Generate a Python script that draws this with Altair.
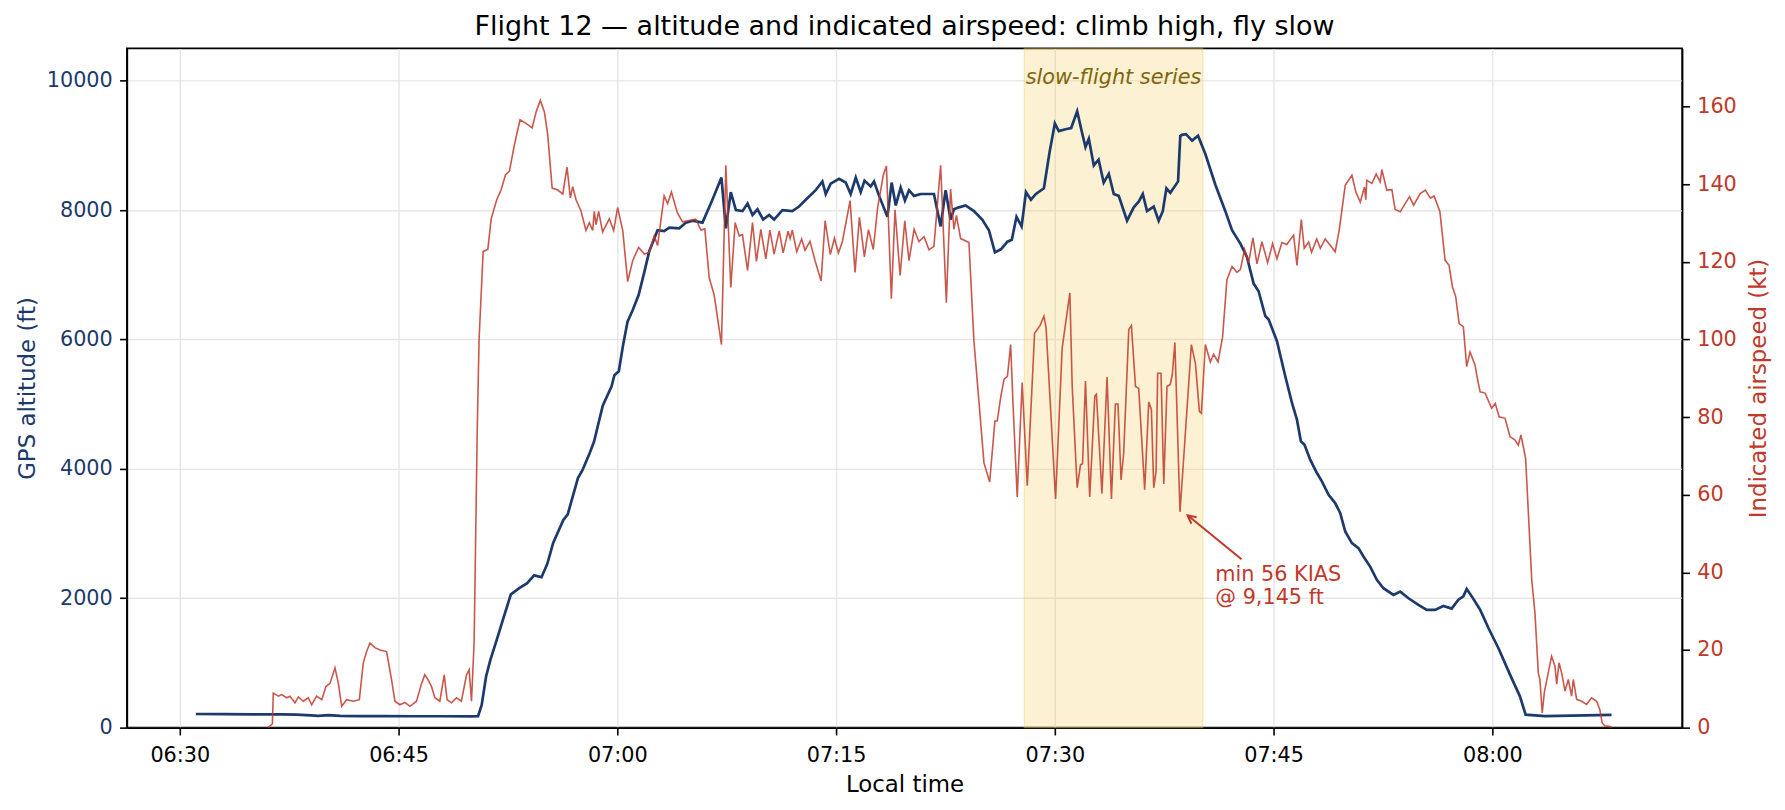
import altair as alt
import pandas as pd

# ---------------- data ----------------
# time values are minutes after 06:30 local time
ALT_T = [1.1, 3.0, 5.0, 7.0, 8.0, 9.0, 9.5, 10.2, 11.0, 12.4, 14.0, 16.0, 18.0, 20.0, 20.45, 20.7, 21.0, 21.3,
         21.7, 22.2, 22.7, 23.3, 23.8, 24.3, 24.8, 25.2, 25.6, 26.3, 26.6, 27.3, 27.6, 28.1, 28.4, 29.0, 29.6,
         29.8, 30.1, 30.4, 30.7, 31.05, 31.46, 31.85, 32.19, 32.76, 33.21, 33.56, 34.25, 34.7, 35.16, 35.84,
         36.52, 37.14, 37.44, 37.78, 38.13, 38.58, 38.93, 39.27, 39.61, 40.0, 40.41, 40.75, 41.32, 42.0, 42.46,
         42.92, 43.6, 44.06, 44.29, 44.63, 45.2, 45.66, 46.0, 46.35, 46.69, 46.95, 47.37, 47.6, 47.95, 48.52,
         48.81, 49.09, 49.43, 49.72, 50.0, 50.34, 50.8, 51.71, 52.17, 52.51, 52.85, 53.08, 53.42, 53.88, 54.45,
         55.02, 55.48, 55.89, 56.3, 56.75, 57.05, 57.37, 57.72, 58.02, 58.36, 58.7, 59.25, 59.64, 60.0, 60.27,
         60.73, 61.12, 61.53, 61.87, 62.1, 62.33, 62.67, 63.0, 63.35, 63.7, 64.04, 64.38, 64.95, 65.41, 65.75,
         66.03, 66.32, 66.78, 67.12, 67.4, 67.65, 67.92, 68.45, 68.6, 68.72, 68.99, 69.41, 69.82, 70.32, 71.0,
         71.69, 72.15, 72.72, 73.17, 73.63, 73.97, 74.43, 74.66, 75.23, 75.8, 76.26, 76.6, 76.87, 77.12, 77.51,
         77.97, 78.31, 78.77, 79.22, 79.57, 79.91, 80.37, 80.82, 81.16, 81.62, 82.08, 82.53, 83.22, 83.68, 84.25,
         84.93, 85.5, 86.07, 86.64, 87.21, 87.67, 88.01, 88.24, 88.59, 89.16, 89.73, 90.41, 91.21, 91.89, 92.28,
         93.6, 95.4, 98.17]
ALT_FT = [211, 208, 206, 205, 200, 190, 182, 194, 182, 178, 177, 176, 176, 175, 178, 350, 790, 1050,
          1334, 1700, 2060, 2160, 2230, 2354, 2325, 2531, 2855, 3209, 3298, 3858, 3976, 4241, 4418, 4978, 5272,
          5449, 5508, 5921, 6275, 6451, 6687, 7041, 7365, 7689, 7677, 7730, 7718, 7807, 7837, 7807,
          8161, 8503, 7718, 8279, 8000, 7984, 8102, 7925, 8013, 7854, 7925, 7854, 8000, 7984, 8055,
          8161, 8308, 8444, 8249, 8409, 8485, 8426, 8249, 8503, 8279, 8456, 8367, 8444, 8220, 7896,
          8426, 8072, 8349, 8149, 8308, 8220, 8249, 8249, 7748, 8308, 7854, 8013, 8043, 8072, 7984,
          7854, 7689, 7347, 7394, 7512, 7542, 7896, 7748, 8279, 8161, 8250, 8338, 8898, 9340, 9222,
          9251, 9269, 9528, 9192, 8974, 9104, 8691, 8780, 8426, 8562, 8249, 8220, 7837, 8043, 8131,
          8249, 7984, 8055, 7837, 7984, 8338, 8267, 8444, 9145, 9163, 9175, 9075, 9151, 8868, 8397,
          7984, 7689, 7483, 7277, 6864, 6746, 6363, 6310, 5974, 5432, 5019, 4761, 4426, 4374, 4142,
          3936, 3807, 3600, 3471, 3316, 3032, 2852, 2774, 2645, 2490, 2284, 2155, 2052, 2103, 2000,
          1897, 1819, 1819, 1881, 1840, 1977, 2029, 2142, 2029, 1823, 1540, 1231, 819, 484, 201,
          178, 185, 196]

IAS_T = [6.05, 6.35, 6.41, 6.76, 6.99, 7.33, 7.56, 7.9, 8.13, 8.47, 8.81, 9.04, 9.38, 9.73, 10.02, 10.3,
         10.64, 10.87, 11.1, 11.44, 11.9, 12.31, 12.58, 12.81, 13.04, 13.38, 13.72, 14.18, 14.52, 14.75, 15.09,
         15.43, 15.78, 16.23, 16.58, 16.8, 17.03, 17.26, 17.49, 17.83, 18.13, 18.33, 18.63, 18.97, 19.31, 19.66,
         19.84, 20.0, 20.18, 20.4, 20.52, 20.8, 21.12, 21.35, 21.73, 22.03, 22.33, 22.6, 22.95, 23.33, 23.74,
         24.16, 24.43, 24.72, 25.0, 25.23, 25.53, 25.91, 26.26, 26.55, 26.78, 26.94, 27.17, 27.51, 27.85, 28.08,
         28.31, 28.42, 28.54, 28.72, 28.99, 29.45, 29.75, 30.02, 30.37, 30.71, 31.05, 31.46, 31.85, 32.19, 32.53,
         32.76, 33.21, 33.45, 33.71, 34.12, 34.47, 35.38, 35.73, 36.0, 36.3, 36.64, 37.14, 37.44, 37.78, 38.08,
         38.36, 38.58, 38.93, 39.27, 39.54, 39.84, 40.18, 40.46, 40.75, 41.1, 41.37, 41.71, 41.85, 42.0, 42.3,
         42.64, 42.87, 43.21, 43.56, 43.97, 44.25, 44.6, 44.89, 45.16, 45.43, 45.96, 46.3, 46.6, 46.94, 47.22,
         47.55, 47.85, 48.24, 48.45, 48.79, 49.04, 49.39, 49.71, 50.0, 50.35, 50.68, 51.03, 51.37, 51.71, 52.17,
         52.56, 52.85, 53.08, 53.25, 53.54, 54.11, 54.45, 55.14, 55.53, 55.89, 56.05, 56.3, 56.52, 56.75, 56.97,
         57.13, 57.42, 57.76, 58.11, 58.61, 59.0, 59.25, 59.4, 60.05, 60.5, 61.03, 61.19, 61.53, 61.76, 61.9,
         62.1, 62.39, 62.74, 62.85, 63.23, 63.58, 63.88, 64.15, 64.33, 64.54, 64.72, 65.07, 65.25, 65.53, 65.75,
         66.16, 66.44, 66.62, 66.78, 66.94, 67.05, 67.28, 67.47, 67.69, 67.91, 68.05, 68.23, 68.58, 68.7, 69.36,
         69.64, 69.91, 70.05, 70.32, 70.66, 70.89, 71.19, 71.5, 71.8, 72.15, 72.49, 72.72, 73.01, 73.29, 73.58,
         73.86, 74.2, 74.59, 74.93, 75.23, 75.57, 75.9, 76.37, 76.6, 76.9, 77.1, 77.4, 77.6, 77.96, 78.2,
         78.54, 78.88, 79.22, 79.5, 79.91, 80.37, 80.64, 80.94, 81.23, 81.32, 81.39, 81.74, 82.03, 82.31, 82.42,
         82.76, 83.11, 83.33, 83.68, 84.02, 84.32, 84.6, 85.05, 85.4, 85.75, 86.0, 86.4, 86.76, 87.03, 87.26,
         87.49, 87.72, 88.01, 88.24, 88.47, 88.81, 88.99, 89.16, 89.5, 89.95, 90.2, 90.46, 90.87, 91.21, 91.55,
         91.78, 91.96, 92.28, 92.47, 92.7, 92.92, 93.15, 93.26, 93.42, 93.56, 93.83, 94.06, 94.29, 94.41, 94.57,
         94.75, 94.98, 95.21, 95.43, 95.55, 95.78, 96.12, 96.46, 96.8, 97.15, 97.37, 97.53, 97.71, 98.17]
IAS_KT = [0, 1, 8.9, 8.1, 8.5, 7.7, 8.1, 6.4, 7.9, 6.8, 7.7, 5.9, 8.1, 7.2, 10.6, 11.4,
          15.4, 11.4, 5.5, 7.2, 6.8, 7.2, 16.7, 19.6, 21.8, 20.6, 20.0, 19.6, 12.3, 6.8, 5.9,
          6.5, 5.5, 6.8, 11.4, 13.6, 12.3, 10.6, 7.7, 6.8, 13.6, 7.2, 6.4, 7.7, 6.8, 13.6,
          14.9, 6.8, 22, 78, 100, 122.7, 123.2, 131.1, 136.0, 138.5, 142.4, 143.4, 150.3, 156.6, 155.7,
          154.5, 158.6, 161.6, 158.6, 152.7, 139.0, 138.5, 137.5, 144.4, 136.5, 139.4, 136.0, 133.1, 128.1, 130.1,
          128.1, 133.0, 129.6, 133.0, 127.7, 131.1, 128.1, 134.0, 128.1, 114.9, 120.3, 123.7, 122.0, 122.5, 126.7,
          124.2, 137.0, 135.0, 138.0, 132.6, 130.3, 131.0, 128.2, 128.5, 115.9, 111.5, 98.7, 144.9, 113.4, 130.1,
          126.7, 127.0, 117.8, 130.1, 120.1, 128.4, 120.8, 128.2, 122.0, 128.0, 122.3, 127.9, 126.0, 128.2, 122.6,
          125.9, 123.0, 125.3, 120.3, 115.1, 130.6, 121.9, 126.1, 122.3, 125.2, 135.8, 117.3, 131.5, 121.3, 128.3,
          123.2, 134.0, 142.4, 144.7, 110.5, 133.4, 116.5, 130.6, 120.3, 128.4, 125.2, 126.5, 123.1, 124.0, 144.9,
          109.5, 138.8, 128.4, 132.0, 126.0, 125.0, 99.7, 68.2, 63.3, 79.0, 79.0, 85.4, 89.8, 90.5, 98.7,
          83.5, 59.4, 88.9, 62.3, 101.6, 103.7, 106.0, 103.0, 58.9, 97.7, 112.0, 87.9, 61.8, 67.7, 68.0,
          89.3, 59.4, 85.4, 85.9, 60.3, 90.3, 58.9, 83.4, 83.4, 63.8, 70.7, 102.6, 103.6, 87.9, 87.4,
          61.3, 83.9, 82.0, 61.8, 66.0, 91.3, 91.3, 62.8, 87.9, 88.4, 90.8, 99.2, 55.6, 62.0, 98.7,
          93.8, 81.5, 81.0, 98.7, 94.2, 96.2, 94.2, 100.6, 115.4, 118.8, 117.3, 118.0, 123.2, 119.8, 126.2,
          119.5, 125.2, 119.8, 124.7, 120.8, 125.0, 124.5, 126.9, 119.1, 130.9, 123.5, 125.1, 122.5, 125.9, 123.5,
          125.9, 124.3, 122.6, 128.2, 139.7, 142.3, 138.0, 135.4, 139.3, 136.0, 141.0, 140.2, 142.6, 140.6, 143.8,
          138.5, 138.6, 133.5, 132.9, 135.0, 136.8, 134.6, 137.6, 138.5, 136.4, 137.0, 133.0, 120.4, 119.1, 113.6,
          111.0, 104.1, 103.3, 93.0, 96.8, 93.4, 89.6, 86.5, 86.2, 82.3, 83.5, 80.1, 79.7, 75.0, 74.1,
          72.8, 75.4, 69.4, 55.2, 38.1, 29.5, 14.1, 12.4, 3.8, 9.0, 14.1, 18.4, 15.9, 11.2, 16.7,
          14.1, 9.4, 12.4, 8.1, 12.4, 7.3, 6.8, 6.0, 7.7, 6.8, 4.6, 1.2, 0.5, 0.2]

X_TICKS = ["06:30", "06:45", "07:00", "07:15", "07:30", "07:45", "08:00"]
ALT_TICKS = [0, 2000, 4000, 6000, 8000, 10000]
IAS_TICKS = [0, 20, 40, 60, 80, 100, 120, 140, 160]

SLOW_START, SLOW_END = 57.9, 70.15        # slow-flight series window (min after 06:30)
ANNOT_LINES = ["min 56 KIAS", "@ 9,145 ft"]

# ---------------- helpers ----------------
BASE = 6 * 60 + 30   # 06:30 in minutes after midnight


def clock(s):
    h, m = s.split(":")
    return int(h) * 60 + int(m)


x_vals = [clock(s) for s in X_TICKS]
alt_df = pd.DataFrame({"m": [BASE + t for t in ALT_T], "alt": ALT_FT})
ias_df = pd.DataFrame({"m": [BASE + t for t in IAS_T], "ias": IAS_KT})
span_df = pd.DataFrame({"m": [BASE + SLOW_START], "m2": [BASE + SLOW_END]})
slow_lbl_df = pd.DataFrame({"m": [BASE + (SLOW_START + SLOW_END) / 2], "ias": [167.3], "txt": ["slow-flight series"]})
annot_df = pd.DataFrame({"m": [BASE + 71.0, BASE + 71.0], "ias": [39.4, 33.5], "txt": ANNOT_LINES})
arrow_df = pd.DataFrame({"m": [BASE + 72.8], "ias": [43.4], "m2": [BASE + 69.1], "ias2": [54.7]})
head_df = pd.DataFrame({"m": [BASE + 69.1], "ias": [54.7]})

FONT = "DejaVu Sans"
BLUE = "#1c3a6b"
RED = "#c0392b"
OLIVE = "#7d6608"
FS = 20.8
TFS = 22.9

label_expr = "format(floor(datum.value / 60), '02d') + ':' + format(datum.value % 60, '02d')"

x_enc = alt.X(
    "m:Q",
    scale=alt.Scale(domain=[BASE - 3.63, BASE + 103.01], nice=False, zero=False),
    axis=alt.Axis(values=x_vals, labelExpr=label_expr, title="Local time", grid=True,
                  labelFlush=False, labelOverlap=False, labelPadding=11, titlePadding=8),
)
x2_enc = alt.X2("m2:Q")

y_alt = alt.Y(
    "alt:Q",
    scale=alt.Scale(domain=[0, 10500], nice=False, zero=True),
    axis=alt.Axis(orient="left", values=ALT_TICKS, format="d", title="GPS altitude (ft)",
                  labelColor=BLUE, titleColor=BLUE, grid=True, titlePadding=7),
)
y_ias = alt.Y(
    "ias:Q",
    scale=alt.Scale(domain=[0, 175], nice=False, zero=True),
    axis=alt.Axis(orient="right", values=IAS_TICKS, format="d", title="Indicated airspeed (kt)",
                  labelColor=RED, titleColor=RED, grid=False, titlePadding=11.5,
                  titleAngle=270, titleBaseline="top"),
)

span = alt.Chart(span_df).mark_rect(
    fill="#f2c94c", fillOpacity=0.25, stroke="#f2c94c", strokeOpacity=0.35, strokeWidth=1.2
).encode(x=x_enc, x2=x2_enc)

alt_line = alt.Chart(alt_df).mark_line(color=BLUE, strokeWidth=2.7).encode(x=x_enc, y=y_alt)

group_a = alt.layer(span, alt_line)

ias_line = alt.Chart(ias_df).mark_line(color=RED, strokeWidth=1.6, opacity=0.85).encode(x=x_enc, y=y_ias)

slow_lbl = alt.Chart(slow_lbl_df).mark_text(
    font=FONT, fontSize=FS, fontStyle="italic", color=OLIVE, align="center", baseline="middle"
).encode(x=x_enc, y=y_ias, text="txt:N")

annot = alt.Chart(annot_df).mark_text(
    font=FONT, fontSize=FS, color=RED, align="left", baseline="middle"
).encode(x=x_enc, y=y_ias, text="txt:N")

arrow = alt.Chart(arrow_df).mark_rule(color=RED, strokeWidth=2).encode(
    x=x_enc, y=y_ias, x2=x2_enc, y2=alt.Y2("ias2:Q")
)

head = alt.Chart(head_df).mark_point(
    shape="M -0.5 1 L 0 0 L 0.5 1", filled=False, size=276, angle=309,
    strokeWidth=2, color=RED, opacity=1
).encode(x=x_enc, y=y_ias)

group_b = alt.layer(ias_line, slow_lbl, annot, arrow, head)

chart = (
    alt.layer(group_a, group_b)
    .resolve_scale(y="independent")
    .properties(
        width=1557,
        height=680,
        padding={"left": 119, "top": 40, "right": 95, "bottom": 70},
        autosize=alt.AutoSizeParams(type="none"),
        background="white",
        title=alt.TitleParams(
            "Flight 12 \u2014 altitude and indicated airspeed: climb high, fly slow",
            font=FONT, fontSize=27, fontWeight="normal", color="black",
            anchor="middle", frame="group", offset=7, baseline="bottom", dy=27,
        ),
    )
    .configure_view(stroke="black", strokeWidth=1.6)
    .configure_axis(
        domainColor="black", domainWidth=1.6, tickColor="black", tickWidth=1.6, tickSize=7.3,
        labelPadding=7.3, labelFont=FONT, titleFont=FONT, labelFontSize=FS, titleFontSize=TFS,
        titleFontWeight="normal", labelColor="black", titleColor="black",
        gridColor="#e6e6e6", gridWidth=1.4,
    )
)

chart.save("out.html", embed_options={"renderer": "svg", "actions": False})
